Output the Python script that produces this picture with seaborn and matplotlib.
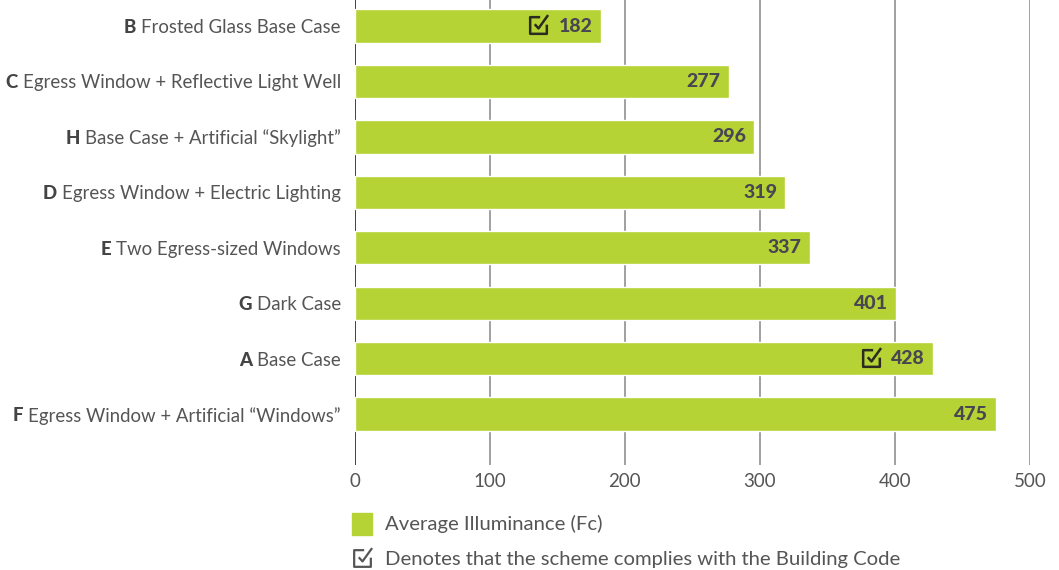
import matplotlib.pyplot as plt
import seaborn as sns
import pandas as pd
from matplotlib.path import Path

letters = ["B", "C", "H", "D", "E", "G", "A", "F"]
names = ["Frosted Glass Base Case", "Egress Window + Reflective Light Well",
         "Base Case + Artificial \u201cSkylight\u201d", "Egress Window + Electric Lighting",
         "Two Egress-sized Windows", "Dark Case", "Base Case",
         "Egress Window + Artificial \u201cWindows\u201d"]
values = [182, 277, 296, 319, 337, 401, 428, 475]
complies = [True, False, False, False, False, False, True, False]
ticks = [0, 100, 200, 300, 400, 500]

df = pd.DataFrame({"name": names, "value": values})

sns.set_style("white")
plt.rcParams["font.family"] = ["Lato", "DejaVu Sans"]

GREEN = "#b5d334"
TXT = "#555555"
VAL = "#474752"

# check-box marker (box open at top right, with tick)
check = Path([(0.2, 1.0), (-1, 1.0), (-1, -1), (1, -1), (1, 0.1),
              (-0.45, 0.15), (0.0, -0.35), (1.15, 1.25)],
             [Path.MOVETO, Path.LINETO, Path.LINETO, Path.LINETO, Path.LINETO,
              Path.MOVETO, Path.LINETO, Path.LINETO])

fig = plt.figure(figsize=(10.59, 5.70), dpi=100)
ax = fig.add_axes([0.335, 0.184, 0.6375, 0.816])

sns.barplot(data=df, x="value", y="name", color=GREEN, width=0.6, ax=ax,
            saturation=1, zorder=3)

ax.set_xlim(0, 500)
ax.set_ylim(len(names) - 1 + 0.92, -0.47)
ax.set_xticks(ticks)
for t in ticks:
    ax.axvline(t, color="#333333" if t == 0 else "#999999", lw=1.3, zorder=1)
for s in ax.spines.values():
    s.set_visible(False)
ax.set_xlabel("")
ax.set_ylabel("")
ax.tick_params(axis="x", length=0, pad=6, labelsize=13.5, labelcolor=TXT)
ax.tick_params(axis="y", length=0, pad=10, labelsize=13.4, labelcolor=TXT)

for i, v in enumerate(values):
    ax.text(v - 8 * 500 / 675, i, str(v), ha="right", va="center",
            fontsize=14, fontweight="black", color=VAL, zorder=4)
    if complies[i]:
        ax.plot(v - 62 * 500 / 675, i - 0.02, marker=check, markersize=15,
                markerfacecolor="none", markeredgecolor="#2b2b20",
                markeredgewidth=1.8, zorder=5, clip_on=False)

fig.canvas.draw()
renderer = fig.canvas.get_renderer()
inv = fig.transFigure.inverted()
for lab, letter in zip(ax.get_yticklabels(), letters):
    bb = lab.get_window_extent(renderer)
    x0, _ = inv.transform((bb.x0 - 5, 0))
    _, yc = inv.transform((0, (bb.y0 + bb.y1) / 2))
    fig.text(x0, yc, letter, ha="right", va="center", fontsize=13.4,
             fontweight="black", color="#444444")

# legend
fig.patches.append(plt.Rectangle((352 / 1059, 1 - 535 / 570), 20 / 1059, 22 / 570,
                                 transform=fig.transFigure, color=GREEN))
fig.text(385 / 1059, 1 - 524 / 570, "Average Illuminance (Fc)", ha="left",
         va="center", fontsize=14.6, color=TXT)
fig.add_artist(plt.Line2D([362 / 1059], [1 - 558 / 570], marker=check,
                          markersize=15, markerfacecolor="none",
                          markeredgecolor=TXT, markeredgewidth=1.6,
                          transform=fig.transFigure))
fig.text(385 / 1059, 1 - 559 / 570,
         "Denotes that the scheme complies with the Building Code",
         ha="left", va="center", fontsize=14.6, color=TXT)

plt.savefig("out.png", dpi=100)
